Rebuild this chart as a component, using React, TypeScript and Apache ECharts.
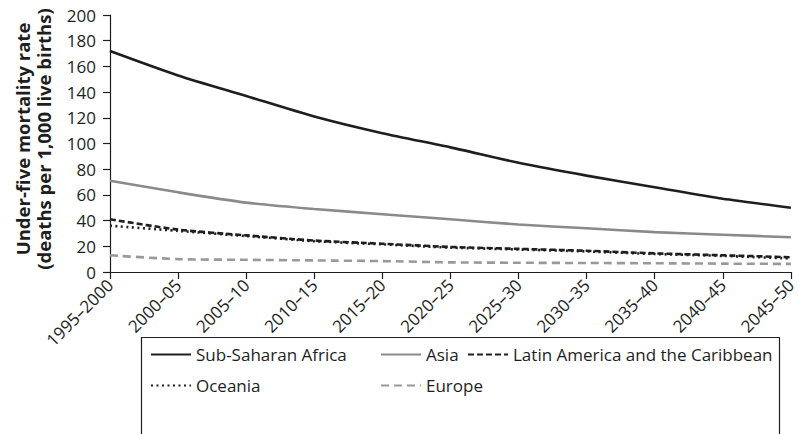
import React, { useEffect, useRef } from "react";
import * as echarts from "echarts";

const periods = [
  "1995–2000", "2000–05", "2005–10", "2010–15", "2015–20", "2020–25",
  "2025–30", "2030–35", "2035–40", "2040–45", "2045–50",
];
const subSaharanAfrica = [172, 153, 137, 121, 108, 97, 85, 75, 66, 57, 50];
const asia = [71, 62, 54, 49, 45, 41, 37, 34, 31, 29, 27];
const latinAmerica = [41, 33, 28.5, 24.5, 22, 19.5, 18, 16.5, 14.5, 13, 11.5];
const oceania = [36, 32, 28, 24, 21.5, 19, 17.5, 16, 14, 12.5, 10.5];
const europe = [13, 10, 9.5, 9, 8.5, 7.5, 7.2, 7, 6.8, 6.5, 6.3];
const yTicks = { min: 0, max: 200, interval: 20 };

const FONT = "Open Sans";
const DARK = "#1e1e1e";

export default function App() {
  const ref = useRef<HTMLDivElement>(null);
  useEffect(() => {
    document.body.style.margin = "0";
    const chart = echarts.init(ref.current!, null, { renderer: "svg" });
    const mk = (name: string, data: number[], color: string, type: any, width = 2.6) => ({
      name,
      type: "line",
      data,
      smooth: 0.25,
      symbol: "none",
      lineStyle: { color, width, type },
      itemStyle: { color },
    });
    const legendBase = {
      orient: "vertical",
      top: 346,
      itemWidth: 40,
      itemHeight: 14,
      itemGap: 14,
      padding: 0,
      itemStyle: { opacity: 0, borderWidth: 0 },
      textStyle: { fontFamily: FONT, fontSize: 17, color: DARK },
    };
    chart.setOption({
      animation: false,
      grid: { left: 110, right: 5, top: 15, bottom: 162, containLabel: false },
      xAxis: {
        type: "category",
        data: periods,
        boundaryGap: false,
        axisLine: { lineStyle: { color: DARK, width: 1.2 } },
        axisTick: { show: true, length: 7, alignWithLabel: true, lineStyle: { color: DARK, width: 1.2 } },
        axisLabel: { rotate: 45, margin: 10, fontFamily: FONT, fontSize: 17, color: DARK, interval: 0 },
        splitLine: { show: false },
      },
      yAxis: {
        type: "value",
        min: yTicks.min,
        max: yTicks.max,
        interval: yTicks.interval,
        axisLine: { show: true, lineStyle: { color: DARK, width: 1.2 } },
        axisTick: { show: true, length: 7, lineStyle: { color: DARK, width: 1.2 } },
        axisLabel: { margin: 14, fontFamily: FONT, fontSize: 17, color: DARK },
        splitLine: { show: false },
      },
      legend: [
        { ...legendBase, left: 150, data: ["Sub-Saharan Africa", "Oceania"] },
        { ...legendBase, left: 380, data: ["Asia", "Europe"] },
        { ...legendBase, left: 467, data: ["Latin America and the Caribbean"] },
      ],
      graphic: [
        {
          type: "rect",
          shape: { x: 141.5, y: 337.5, width: 638, height: 140 },
          style: { fill: "none", stroke: DARK, lineWidth: 1.2 },
          silent: true,
        },
        {
          type: "text",
          x: 33,
          y: 139,
          rotation: Math.PI / 2,
          style: {
            text: "Under-five mortality rate\n(deaths per 1,000 live births)",
            fontFamily: FONT,
            fontSize: 18.5,
            fontWeight: "bold",
            fill: DARK,
            align: "center",
            verticalAlign: "middle",
            lineHeight: 21,
          },
        },
      ],
      series: [
        mk("Sub-Saharan Africa", subSaharanAfrica, DARK, "solid"),
        mk("Asia", asia, "#8a8a8a", "solid"),
        mk("Latin America and the Caribbean", latinAmerica, DARK, [6, 3]),
        mk("Oceania", oceania, DARK, [2, 3.5]),
        mk("Europe", europe, "#999999", [8, 5]),
      ],
    });
    return () => chart.dispose();
  }, []);
  return <div ref={ref} style={{ width: 799, height: 434 }} />;
}
